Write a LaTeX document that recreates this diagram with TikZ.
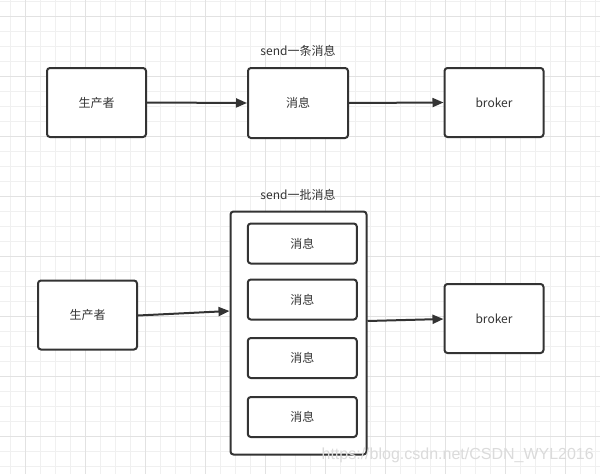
\documentclass[tikz,border=0pt]{standalone}
\usepackage{fontspec}
\setmainfont{Noto Sans CJK SC}
\newfontfamily\wmfont{Liberation Sans}
\usetikzlibrary{arrows.meta}
\definecolor{ink}{HTML}{333333}
\definecolor{gridminor}{HTML}{F0F0F0}
\definecolor{gridmajor}{HTML}{E2E2E2}
\tikzset{
  box/.style={draw=ink, line width=2pt, rounded corners=3pt, fill=white, text=ink,
    minimum width=99pt, minimum height=69pt, inner sep=0pt, font=\fontsize{12}{14}\selectfont},
  msg/.style={box, minimum width=109pt, minimum height=40pt},
  cont/.style={draw=ink, line width=2pt, rounded corners=3pt, fill=white, minimum width=136pt, minimum height=243pt, inner sep=0pt},
  lbl/.style={text=ink, font=\fontsize{12}{14}\selectfont, inner sep=0pt},
  conn/.style={draw=ink, line width=2pt, -{Triangle[length=11pt,width=9pt]}},
}
\begin{document}
\begin{tikzpicture}[x=1pt,y=-1pt]
\useasboundingbox (0,0) rectangle (600,474);
\fill[white] (0,0) rectangle (600,474);
% grid
\foreach \i in {0,...,39} {\draw[gridminor, line width=1pt] ({10+15*\i},0) -- ({10+15*\i},474);}
\foreach \i in {0,...,31} {\draw[gridminor, line width=1pt] (0,{1.7+15*\i}) -- (600,{1.7+15*\i});}
\foreach \i in {0,...,9} {\draw[gridmajor, line width=1pt] ({25+60*\i},0) -- ({25+60*\i},474);}
\foreach \i in {0,...,7} {\draw[gridmajor, line width=1pt] (0,{16.7+60*\i}) -- (600,{16.7+60*\i});}
% top row
\node[box] (p1) at (96.5,102.5) {生产者};
\node[box, minimum width=100pt, minimum height=70pt] (m1) at (298,103) {消息};
\node[box] (b1) at (494,102.5) {broker};
\node[lbl] (l1) at (298,51) {send一条消息};
\draw[conn] (p1.east) -- (m1.west);
\draw[conn] (m1.east) -- (b1.west);
% bottom row
\node[box] (p2) at (87.5,315) {生产者};
\node[cont] (c2) at (298.5,333) {};
\node[msg] (q1) at (302.3,243.5) {消息};
\node[msg] (q2) at (302.3,299.5) {消息};
\node[msg] (q3) at (302.3,358) {消息};
\node[msg] (q4) at (302.3,417) {消息};
\node[box] (b2) at (494,318.5) {broker};
\node[lbl] (l2) at (298,195) {send一批消息};
\coordinate (s1) at ([yshift=-0.5pt]p2.east);
\coordinate (e1) at ([yshift=22pt]c2.west);
\draw[conn] (s1) -- (e1);
\coordinate (s2) at ([yshift=12pt]c2.east);
\draw[conn] (s2) -- ([yshift=-0.5pt]b2.west);
% watermark
\node[text=black!14, font=\wmfont\fontsize{16}{18}\selectfont, anchor=east, inner sep=0pt] (wm) at (594,455) {https://blog.csdn.net/CSDN\_WYL2016};
\end{tikzpicture}
\end{document}
